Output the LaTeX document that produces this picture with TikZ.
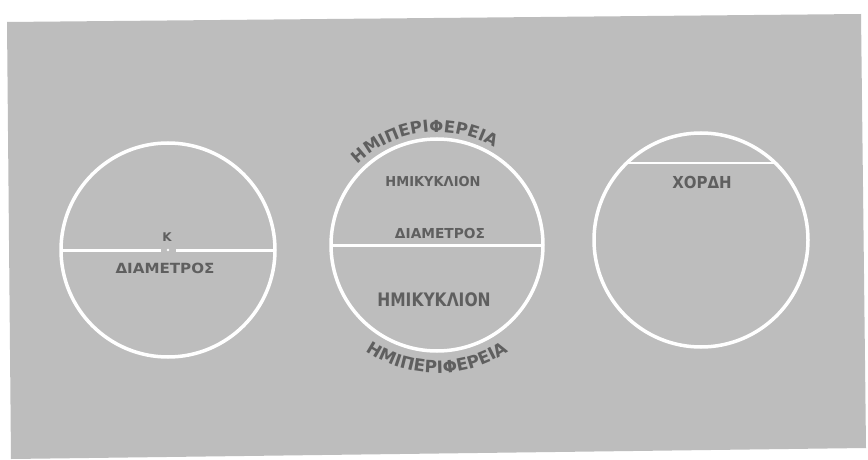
\documentclass[tikz,border=0pt]{standalone}
\usepackage{fontspec}
\setmainfont{DejaVu Sans}
\usetikzlibrary{decorations.text,calc}
\definecolor{paper}{RGB}{189,189,189}
\definecolor{ink}{RGB}{95,95,95}
\newcommand{\arcfonttop}{\fontsize{16.5}{16.5}\selectfont\bfseries\color{ink}}
\newcommand{\arcfontbot}{\fontsize{17}{17}\selectfont\bfseries\color{ink}}
\begin{document}
\begin{tikzpicture}[x=1pt,y=1pt,
  ring/.style={circle, draw=white, line width=3.5pt, minimum size=#1, inner sep=0pt, outer sep=0pt},
  wline/.style={draw=white, line width=3pt},
  lbl/.style={text=ink, font=\bfseries\fontsize{#1}{#1}\selectfont, inner sep=0pt}]
\useasboundingbox (0,0) rectangle (868,459);
\fill[white] (0,0) rectangle (868,459);
\fill[paper] (7,437) -- (861,445) -- (866,11) -- (11,0) -- cycle;

% left circle
\node[ring=214pt] (c1) at (168,209) {};
\draw[wline] (c1.west) -- ([xshift=-7pt]c1.center);
\draw[wline] ([xshift=8pt]c1.center) -- (c1.east);
\fill[white] (c1.center) circle (1.3pt);
\node[lbl=12] (k) at (167,222) {Κ};
\node[lbl=14, xscale=1.08] (d1) at (165,191) {ΔΙΑΜΕΤΡΟΣ};

% middle circle
\node[ring=212pt] (c2) at (437,214) {};
\draw[wline] (c2.west) -- (c2.east);
\node[lbl=13, yscale=1.05] (h1) at (433,277) {ΗΜΙΚΥΚΛΙΟΝ};
\node[lbl=12.5, xscale=1.1, yscale=1.1] (d2) at (440,226) {ΔΙΑΜΕΤΡΟΣ};
\node[lbl=15.5, yscale=1.2] (h2) at (434,159) {ΗΜΙΚΥΚΛΙΟΝ};
\path[decorate, decoration={text along path, text align=center,
    text={|\arcfonttop|ΗΜΙΠΕΡΙΦΕΡΕΙΑ}}]
  ($(c2.center)+(150:113)$) arc[start angle=150, end angle=44, radius=113];
\path[decorate, decoration={text along path, text align=center,
    text={|\arcfontbot|ΗΜΙΠΕΡΙΦΕΡΕΙΑ}}]
  ($(c2.center)+(-128:128)$) arc[start angle=-128, end angle=-52, radius=128];

% right circle
\node[ring=214pt] (c3) at (701,219) {};
\draw[white, line width=2.5pt] (c3.134) -- (c3.46);
\node[lbl=15, yscale=1.1] (x) at (702,277) {ΧΟΡΔΗ};
\end{tikzpicture}
\end{document}
